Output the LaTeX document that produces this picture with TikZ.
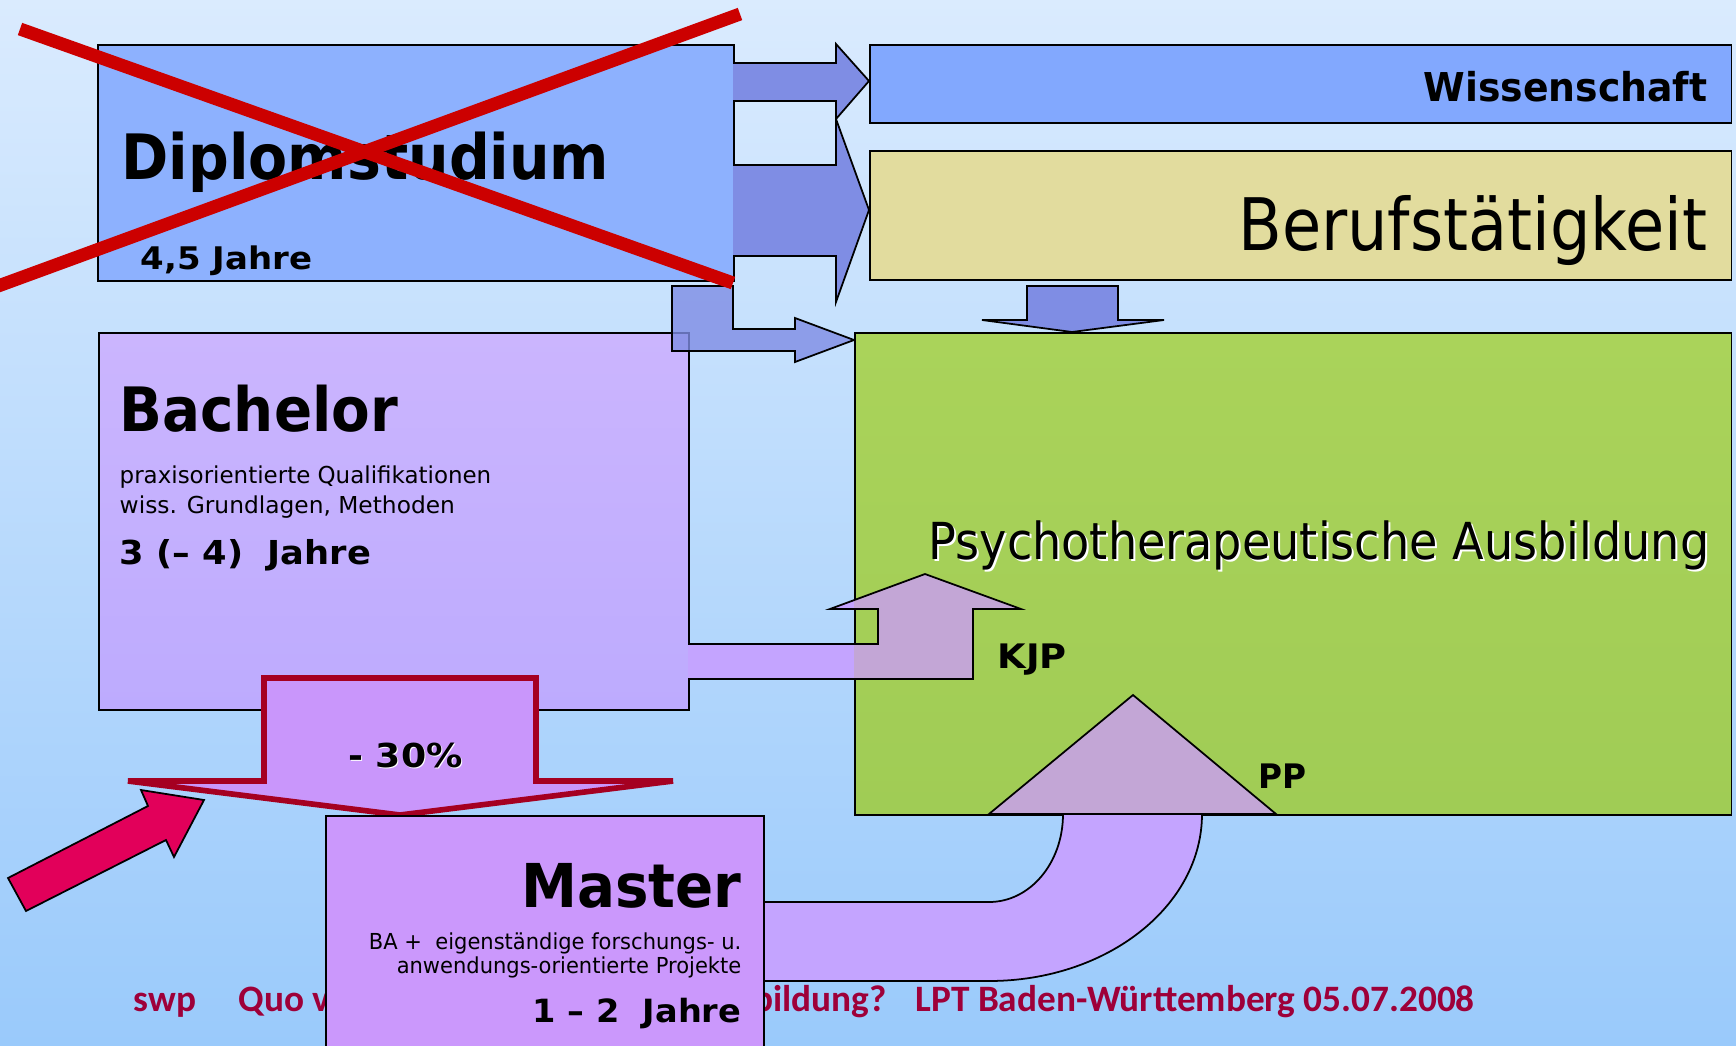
\documentclass[tikz,border=0pt]{standalone}
\usepackage{fontspec}
\setmainfont{DejaVu Sans}
\newfontfamily\footfont{Carlito}
\newcommand{\hsc}[2]{\scalebox{#1}[1]{#2}}
\newcommand{\fsz}[1]{\fontsize{#1}{#1}\selectfont}
\definecolor{bgtop}{HTML}{DAEBFE}
\definecolor{bgbot}{HTML}{9ACAFB}
\definecolor{diplomc}{HTML}{8DB1FE}
\definecolor{wissc}{HTML}{82A8FE}
\definecolor{berufc}{HTML}{E2DC9E}
\definecolor{greentop}{HTML}{AAD35A}
\definecolor{greenbot}{HTML}{A0CC55}
\definecolor{bachtop}{HTML}{CBB5FE}
\definecolor{bachbot}{HTML}{BDABFE}
\definecolor{masterc}{HTML}{CB98FC}
\definecolor{minusfill}{HTML}{C996FB}
\definecolor{minusline}{HTML}{A50021}
\definecolor{bluearr}{HTML}{7F8DE4}
\definecolor{violetc}{HTML}{C4A4FF}
\definecolor{violetg}{HTML}{C3A6D6}
\definecolor{magentac}{HTML}{E2005A}
\definecolor{xred}{HTML}{CC0000}
\definecolor{footc}{HTML}{9E0039}
\begin{document}
\begin{tikzpicture}[x=0.01cm,y=-0.01cm,
  box/.style={draw=black,line width=0.5pt,inner sep=0pt,anchor=north west},
  blk/.style={draw=black,line width=0.5pt},
  txt/.style={inner sep=0pt,text=black},
  foot/.style={inner sep=0pt,text=footc,font=\footfont\bfseries\fsz{10.6pt},anchor=base west}]
\useasboundingbox (0,0) rectangle (1736,1045);
\clip (0,0) rectangle (1736,1045);
\shade[top color=bgtop,bottom color=bgbot] (0,0) rectangle (1736,1045);

% top boxes
\node[box,fill=diplomc,minimum width=6.36cm,minimum height=2.36cm] (diplom) at (97,44) {};
\node[box,fill=wissc,minimum width=8.61cm,minimum height=0.78cm] (wiss) at (869,44) {};
\node[box,fill=berufc,minimum width=8.61cm,minimum height=1.29cm] (beruf) at (869,150) {};

% blue block arrows
\filldraw[blk,fill=bluearr] (733,63) -- (836,63) -- (836,44) -- (869,81) -- (836,119) -- (836,101) -- (733,101);
\filldraw[blk,fill=bluearr] (733,165) -- (836,165) -- (836,119) -- (869,210) -- (836,302) -- (836,256) -- (733,256);
\filldraw[blk,fill=bluearr] (1027,286) -- (1118,286) -- (1118,320) -- (1164,320) -- (1072,332) -- (982,320) -- (1027,320) -- cycle;

% Bachelor box
\node[box,top color=bachtop,bottom color=bachbot,minimum width=5.90cm,minimum height=3.77cm] (bach) at (98,332) {};
% blue L arrow (semi transparent)
\filldraw[blk,fill=bluearr,fill opacity=0.8] (672,286) -- (733,286) -- (733,329) -- (795,329) -- (795,318) -- (854,340) -- (795,362) -- (795,351) -- (672,351) -- cycle;

% green box
\node[box,top color=greentop,bottom color=greenbot,minimum width=8.76cm,minimum height=4.82cm] (psy) at (854,332) {};

% KJP arrow
\fill[violetc] (688,644) -- (878,644) -- (878,609) -- (830,609) -- (925,574) -- (1021,609) -- (973,609) -- (973,679) -- (688,679) -- cycle;
\begin{scope}
\clip (854,332) rectangle (1730,814);
\fill[violetg] (688,644) -- (878,644) -- (878,609) -- (830,609) -- (925,574) -- (1021,609) -- (973,609) -- (973,679) -- (688,679) -- cycle;
\end{scope}
\draw[blk] (688,644) -- (878,644) -- (878,609) -- (830,609) -- (925,574) -- (1021,609) -- (973,609) -- (973,679) -- (688,679);

% footer (partly hidden by Master box)
\node[foot] (f1) at (133,1011) {swp};
\node[foot] (f2) at (238,1011) {Quo v};
\node[foot,anchor=base east] (f3) at (887,1011) {bildung?};
\node[foot] (f4) at (915,1011) {LPT Baden-Württemberg 05.07.2008};

% PP arrow
\fill[violetc] (740,902) -- (989,902) .. controls (1030,902) and (1063,863) .. (1063,814) -- (1202,814) .. controls (1202,906) and (1107,981) .. (989,981) -- (740,981) -- cycle;
\draw[blk] (740,902) -- (989,902) .. controls (1030,902) and (1063,863) .. (1063,814);
\draw[blk] (1202,814) .. controls (1202,906) and (1107,981) .. (989,981) -- (740,981);
\filldraw[blk,fill=violetg] (989,814) -- (1133,695) -- (1276,814) -- cycle;

% -30% arrow
\filldraw[draw=minusline,fill=minusfill,line width=1.6pt] (264,678) -- (536,678) -- (536,781) -- (673,781) -- (400,815) -- (128,781) -- (264,781) -- cycle;

% Master box
\node[box,fill=masterc,minimum width=4.38cm,minimum height=2.5cm] (master) at (325,815) {};

% magenta arrow
\filldraw[blk,fill=magentac] (8,878) -- (148,806) -- (141,790) -- (204,800) -- (174,857) -- (166,840) -- (26,911) -- cycle;

% texts
\node[txt,anchor=base west] (tdip) at (121,179) {\bfseries\fsz{17.8pt}\hsc{0.91}{Diplomstudium}};
\node[txt,anchor=base west] (tdipj) at (140,269) {\bfseries\fsz{8.86pt}\hsc{1.09}{4,5 Jahre}};
\node[txt,anchor=base east] (twiss) at (1708,101) {\bfseries\fsz{11.3pt}\hsc{0.95}{Wissenschaft}};
\node[txt,anchor=base east] (tberuf) at (1708,250) {\fsz{20.6pt}\hsc{0.88}{Berufstätigkeit}};
\node[txt,anchor=base west,text=white] (tpsys) at (930,561) {\fsz{14.5pt}\hsc{0.905}{Psychotherapeutische Ausbildung}};
\node[txt,anchor=base west] (tpsy) at (928,559) {\fsz{14.5pt}\hsc{0.905}{Psychotherapeutische Ausbildung}};
\node[txt,anchor=base west] (tbach) at (119,431) {\bfseries\fsz{17.4pt}\hsc{0.92}{Bachelor}};
\node[txt,anchor=base west] (tb1) at (119,483) {\fsz{6.63pt}\hsc{0.985}{praxisorientierte Qualifikationen}};
\node[txt,anchor=base west] (tb2) at (119,513) {\fsz{6.63pt}wiss. Grundlagen, Methoden};
\node[txt,anchor=base west] (tb3) at (119,564) {\bfseries\fsz{9.37pt}\hsc{1.07}{3 (– 4)\ \ Jahre}};
\node[txt,anchor=base west] (tkjp) at (997,668) {\bfseries\fsz{9.6pt}\hsc{1.09}{KJP}};
\node[txt,anchor=base west] (tpp) at (1258,788) {\bfseries\fsz{9.6pt}\hsc{0.97}{PP}};
\node[txt,anchor=base,text=white] (tmins) at (406.5,768) {\bfseries\fsz{9.37pt}\hsc{1.1}{- 30\%}};
\node[txt,anchor=base] (tmin) at (405.5,767) {\bfseries\fsz{9.37pt}\hsc{1.1}{- 30\%}};
\node[txt,anchor=base east] (tmas) at (742,907) {\bfseries\fsz{17.2pt}\hsc{0.93}{Master}};
\node[txt,anchor=base east] (tm1) at (742,949) {\fsz{6.26pt}\hsc{0.955}{BA +\ \ eigenständige forschungs- u.}};
\node[txt,anchor=base east] (tm2) at (742,973) {\fsz{6.26pt}\hsc{0.955}{anwendungs-orientierte Projekte}};
\node[txt,anchor=base east] (tm3) at (742,1022) {\bfseries\fsz{9.1pt}\hsc{1.05}{1 – 2\ \ Jahre}};

% red cross
\draw[xred,line width=3.7pt] (20,29) -- (733,283);
\draw[xred,line width=3.7pt] (-10,289) -- (740,14);
\end{tikzpicture}
\end{document}
